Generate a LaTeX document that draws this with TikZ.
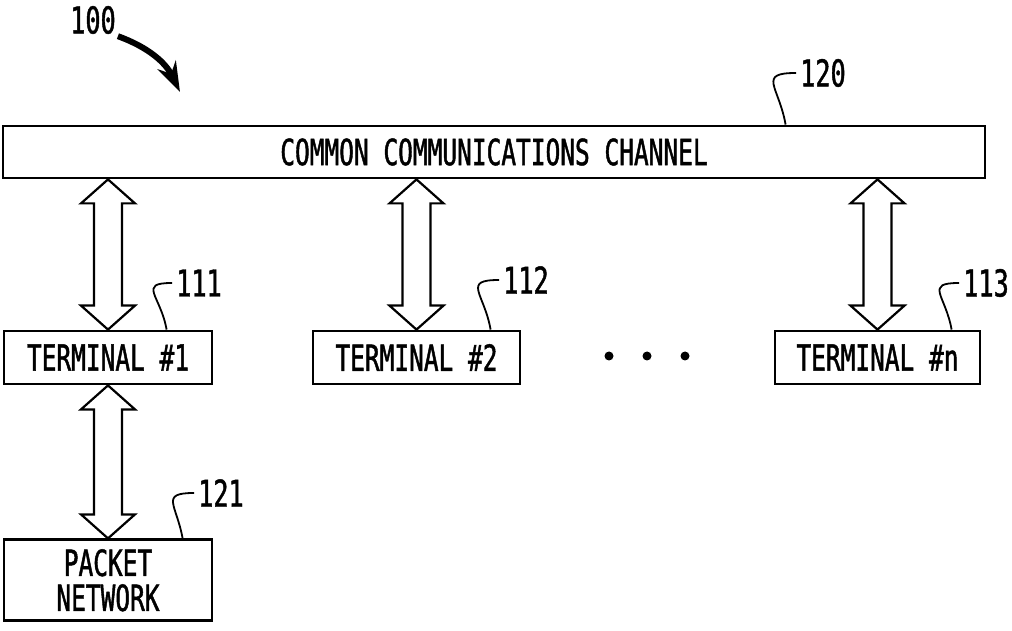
\documentclass[tikz,border=0pt]{standalone}
\usepackage{fontspec}
\newfontfamily\figfont[FakeStretch=0.68,FakeBold=1.2]{DejaVu Sans Mono}
\usetikzlibrary{positioning,calc,arrows.meta}

% hollow two-headed link from the bottom of #1 to the top of #2
\newcommand{\fatlink}[2]{%
  \draw[fatarrow] let \p1=(#2.north), \p2=(#1.south) in
    (\x1,\y2) -- (\x1+27pt,\y2-24pt) -- (\x1+14pt,\y2-24pt) -- (\x1+14pt,\y1+24pt)
    -- (\x1+27pt,\y1+24pt) -- (\x1,\y1) -- (\x1-27pt,\y1+24pt) -- (\x1-14pt,\y1+24pt)
    -- (\x1-14pt,\y2-24pt) -- (\x1-27pt,\y2-24pt) -- cycle;}

\begin{document}
\begin{tikzpicture}[x=1pt,y=1pt,
  box/.style={rectangle,draw,line width=2.8pt,inner sep=0pt,align=center,font=\figfont\fontsize{36}{35}\selectfont},
  fatarrow/.style={line width=2.2pt,fill=white,line join=miter},
  leader/.style={line width=1.8pt},
  reflabel/.style={font=\figfont\fontsize{37}{37}\selectfont,inner sep=4pt},
  sysarrow/.style={-{Stealth[length=30pt,width=20pt]},line width=6pt},
]
\useasboundingbox (0,0) rectangle (1012,630);

% === CHANNEL ===
\node[box,minimum width=982pt,minimum height=52pt] (channel) at (494,478) {COMMON COMMUNICATIONS CHANNEL};

% === TERMINALS ===
\node[box,minimum width=208pt,minimum height=53pt] (term1) at (108,272.5) {TERMINAL \#1};
\node[box,minimum width=207pt,minimum height=53pt] (term2) at (416.5,272.5) {TERMINAL \#2};
\node[box,minimum width=205pt,minimum height=53pt] (termn) at (877.5,272.5) {TERMINAL \#n};

% packet network under terminal 1
\node[box,minimum width=208pt,minimum height=81pt,below=153pt of term1] (packet) {PACKET\\NETWORK};

% more terminals
\foreach \x in {609,647,685}
  \fill (\x,274) circle (4.5);

% Links
\fatlink{channel}{term1}
\fatlink{channel}{term2}
\fatlink{channel}{termn}
\fatlink{term1}{packet}

% Reference numerals
\node[reflabel] (sys) at (93,610) {100};
\coordinate (systip) at (180,538);
\draw[sysarrow] ($(sys.south east)+(-2,2)$) to[bend left=22] (systip);

\node[reflabel] (ref120) at (823,557) {120};
\node[reflabel] (ref111) at (199,347) {111};
\node[reflabel] (ref112) at (526,350) {112};
\node[reflabel] (ref113) at (986,347) {113};
\node[reflabel] (ref121) at (221,137) {121};

\coordinate (tap120) at ($(channel.north west)+(784,0)$);
\coordinate (tap111) at ($(term1.north west)+(164,0)$);
\coordinate (tap112) at ($(term2.north west)+(179,0)$);
\coordinate (tap113) at ($(termn.north west)+(178,0)$);
\coordinate (tap121) at ($(packet.north west)+(180,0)$);

\foreach \r in {120,111,112,113,121}
  \draw[leader] (ref\r.west) to[out=180,in=100,looseness=1.9] (tap\r);

\end{tikzpicture}
\end{document}
